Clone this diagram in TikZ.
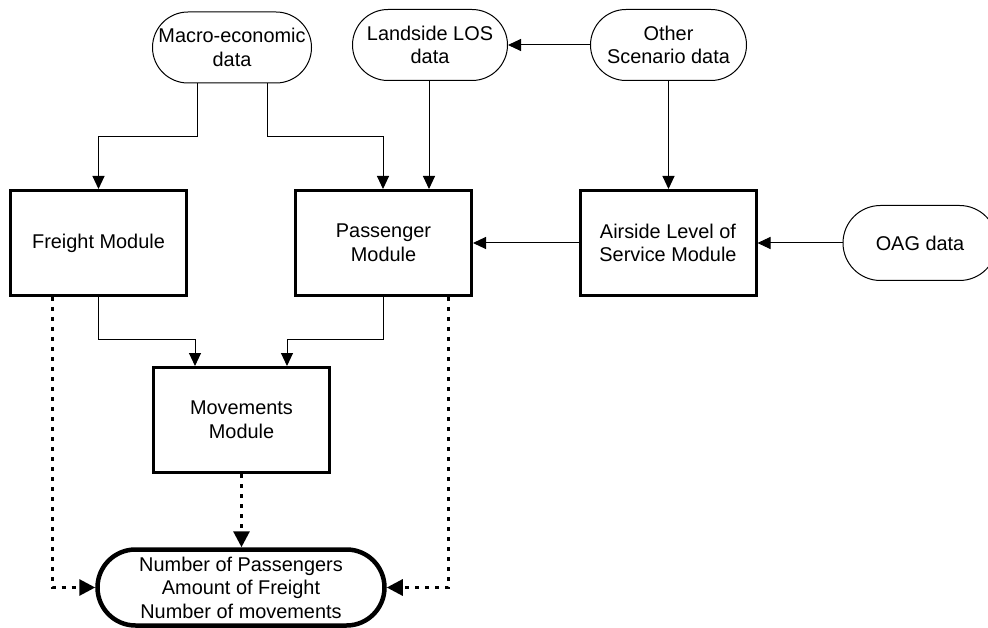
\documentclass[tikz,border=0pt]{standalone}
\usepackage{fontspec}
\setmainfont{Liberation Sans}
\usetikzlibrary{arrows.meta,shapes.misc}
\begin{document}
\begin{tikzpicture}[x=1pt,y=-1pt,
  font=\fontsize{19.9}{23.6}\selectfont,
  module/.style={draw,line width=3pt,rectangle,minimum width=176pt,minimum height=105pt,align=center,inner sep=0pt},
  datanode/.style={draw,line width=1pt,rounded rectangle,minimum width=#1,minimum height=71pt,align=center,inner sep=0pt},
  outnode/.style={draw,line width=4.5pt,rounded rectangle,minimum width=287pt,minimum height=76pt,align=center,inner sep=0pt},
  flow/.style={line width=1pt,-{Triangle[length=13pt,width=12pt]}},
  result/.style={line width=3pt,dash pattern=on 4pt off 6pt,-{Triangle[length=16pt,width=16pt]}}
]
\useasboundingbox (0,0) rectangle (988,628);
\node[datanode=159pt] (macro) at (232,47.5) {Macro-economic\\data};
\node[datanode=155pt] (land) at (430,45) {Landside LOS\\data};
\node[datanode=156pt] (other) at (668.5,45) {Other\\Scenario data};
\node[module] (freight) at (98.5,243) {Freight Module};
\node[module] (pass) at (383.5,243) {Passenger\\Module};
\node[module] (air) at (668,243) {Airside Level of\\Service Module};
\node[datanode=154pt,minimum height=75pt] (oag) at (920,243) {OAG data};
\node[module] (mov) at (241.5,420) {Movements\\Module};
\node[outnode] (out) at (241,587.5) {Number of Passengers\\Amount of Freight\\Number of movements};

\draw[flow] ([xshift=-35pt]macro.south) -- ++(0,53.5) -| (freight.north);
\draw[flow] ([xshift=35pt]macro.south) -- ++(0,53.5) -| ([xshift=-0.5pt]pass.north);
\draw[flow] ([xshift=-1pt]land.south) -- ([xshift=-1pt]land.south |- pass.north);
\draw[flow] (other.west) -- (land.east);
\draw[flow] (other.south) -- (other.south |- air.north);
\draw[flow] (oag.west) -- (air.east);
\draw[flow] (air.west) -- (pass.east);
\draw[flow] (freight.south) -- ++(0,43) -| ([xshift=-46.5pt]mov.north);
\draw[flow] (pass.south) -- ++(0,43) -| ([xshift=45.5pt]mov.north);

\draw[result] ([xshift=-46.5pt]freight.south) |- (out.west);
\draw[result] ([xshift=64.5pt]pass.south) |- (out.east);
\draw[result] (mov.south) -- (mov.south |- out.north);
\end{tikzpicture}
\end{document}
